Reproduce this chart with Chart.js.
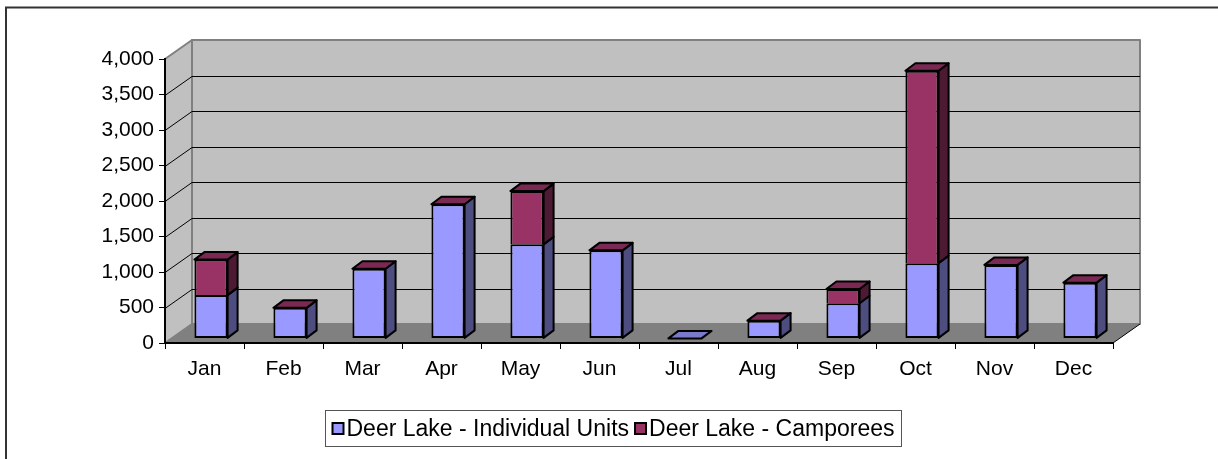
<!DOCTYPE html>
<html>
<head>
<meta charset="utf-8">
<script src="https://cdn.jsdelivr.net/npm/chart.js@4.4.1/dist/chart.umd.min.js"></script>
<style>
  body { margin: 0; background: #fff; }
  canvas { display: block; }
</style>
</head>
<body>
<canvas id="barChart" width="1218" height="459"></canvas>
<script>
const months = ["Jan", "Feb", "Mar", "Apr", "May", "Jun", "Jul", "Aug", "Sep", "Oct", "Nov", "Dec"];
const individualUnits = [610, 430, 980, 1890, 1325, 1240, 0, 250, 495, 1060, 1035, 785];
const camporees = [500, 0, 0, 0, 750, 0, null, 0, 200, 2710, 0, 0];
const yTicks = [0, 500, 1000, 1500, 2000, 2500, 3000, 3500, 4000];
const seriesNames = ["Deer Lake - Individual Units", "Deer Lake - Camporees"];

const FONT = '"Liberation Sans", Arial, sans-serif';
// depth of the 3d box and of the bars
const DX = 27, DY = -19;
const SHIFT_X = 6.5, SHIFT_Y = -4.6;
const BAR_DX = 10, BAR_DY = -7.5;

const faces = [
  { front: "#9999ff", side: "#4d4d80", top: "#7a7acc" },
  { front: "#993366", side: "#4d1a33", top: "#7a2952" },
];

function poly(ctx, pts, fill, stroke, lw) {
  ctx.beginPath();
  ctx.moveTo(pts[0][0], pts[0][1]);
  for (let i = 1; i < pts.length; i++) ctx.lineTo(pts[i][0], pts[i][1]);
  ctx.closePath();
  if (fill) { ctx.fillStyle = fill; ctx.fill(); }
  if (stroke) { ctx.strokeStyle = stroke; ctx.lineWidth = lw; ctx.lineJoin = "round"; ctx.stroke(); }
}

const box3d = {
  id: "box3d",
  beforeDraw(chart) {
    const ctx = chart.ctx;
    const a = chart.chartArea;
    const y = chart.scales.y;
    ctx.save();
    // outer frame
    ctx.strokeStyle = "#333";
    ctx.lineWidth = 2;
    ctx.beginPath();
    ctx.moveTo(6, 459);
    ctx.lineTo(6, 7.5);
    ctx.lineTo(1218, 7.5);
    ctx.stroke();

    const L = a.left, R = a.right, T = a.top, B = a.bottom;
    // left wall
    poly(ctx, [[L, B], [L, T], [L + DX, T + DY], [L + DX, B + DY]], "#c0c0c0", "#808080", 2);
    // back wall
    poly(ctx, [[L + DX, T + DY], [R + DX, T + DY], [R + DX, B + DY], [L + DX, B + DY]], "#c0c0c0", "#808080", 2);
    // floor
    poly(ctx, [[L, B], [L + DX, B + DY], [R + DX, B + DY], [R, B]], "#808080", null, 0);
    ctx.strokeStyle = "#000";
    ctx.lineWidth = 1;
    ctx.beginPath();
    ctx.moveTo(R, B);
    ctx.lineTo(R + DX, B + DY);
    ctx.stroke();

    // gridlines
    ctx.strokeStyle = "#000";
    ctx.lineWidth = 1;
    yTicks.slice(1, -1).forEach(v => {
      const py = Math.round(y.getPixelForValue(v)) + 0.5;
      ctx.beginPath();
      ctx.moveTo(L, py);
      ctx.lineTo(L + DX, py + DY);
      ctx.lineTo(R + DX, py + DY);
      ctx.stroke();
    });
    ctx.restore();
  },
  beforeDatasetsDraw(chart) {
    chart.ctx.save();
    chart.ctx.translate(SHIFT_X, SHIFT_Y);
  },
  afterDatasetsDraw(chart) {
    const ctx = chart.ctx;
    const sets = chart.data.datasets;
    for (let i = 0; i < months.length; i++) {
      let topEl = null, topD = -1;
      sets.forEach((ds, d) => {
        if (ds.data[i] === null) return;
        const el = chart.getDatasetMeta(d).data[i];
        const p = el.getProps(["x", "y", "base", "width"], true);
        const right = p.x + p.width / 2;
        if (p.base - p.y > 0.5) {
          poly(ctx, [[right, p.y], [right + BAR_DX, p.y + BAR_DY], [right + BAR_DX, p.base + BAR_DY], [right, p.base]],
            faces[d].side, "#000", 2);
        }
        topEl = p; topD = d;
      });
      if (topEl) {
        const l = topEl.x - topEl.width / 2, r = topEl.x + topEl.width / 2, t = topEl.y;
        poly(ctx, [[l, t], [l + BAR_DX, t + BAR_DY], [r + BAR_DX, t + BAR_DY], [r, t]], faces[topD].top, "#000", 2);
      }
    }
    ctx.restore();
  },
  afterDraw(chart) {
    // legend in a framed box
    const ctx = chart.ctx;
    ctx.save();
    ctx.font = "23px " + FONT;
    const sw = 11, gap = 3, itemGap = 6, padX = 7;
    const widths = seriesNames.map(s => ctx.measureText(s).width);
    let total = padX * 2;
    widths.forEach((w, k) => { total += sw + gap + w + (k ? itemGap : 0); });
    const cx = 612.5;
    const left = Math.round(cx - total / 2) + 0.5;
    const top = 410.5, h = 36;
    ctx.strokeStyle = "#555";
    ctx.lineWidth = 1;
    ctx.strokeRect(left, top, Math.round(total), h);
    let x = left + padX;
    const midY = top + h / 2;
    seriesNames.forEach((s, k) => {
      if (k) x += itemGap;
      ctx.fillStyle = faces[k].front;
      ctx.fillRect(x, midY - sw / 2, sw, sw);
      ctx.strokeStyle = "#000";
      ctx.lineWidth = 2;
      ctx.strokeRect(x, midY - sw / 2, sw, sw);
      x += sw + gap;
      ctx.fillStyle = "#000";
      ctx.textBaseline = "middle";
      ctx.textAlign = "left";
      ctx.fillText(s, x, midY + 1);
      x += widths[k];
    });
    ctx.restore();
  },
};

let barChart = document.getElementById("barChart").getContext("2d");

let deerLakeChart = new Chart(barChart, {
  type: "bar",
  data: {
    labels: months,
    datasets: [
      {
        label: seriesNames[0],
        data: individualUnits,
        backgroundColor: faces[0].front,
        borderColor: "#000",
        borderWidth: 2,
        borderSkipped: false,
        clip: false,
      },
      {
        label: seriesNames[1],
        data: camporees,
        backgroundColor: faces[1].front,
        borderColor: "#000",
        borderWidth: { top: 2, left: 2, right: 2, bottom: 0 },
        borderSkipped: false,
        clip: false,
      },
    ],
  },
  options: {
    responsive: false,
    animation: false,
    categoryPercentage: 0.42,
    barPercentage: 1,
    layout: {
      padding: { left: 75, right: 105, top: 59, bottom: 76 },
    },
    plugins: {
      legend: { display: false },
      tooltip: { enabled: false },
    },
    scales: {
      x: {
        stacked: true,
        grid: { offset: true, drawOnChartArea: false, tickLength: 6, color: "#000" },
        border: { color: "#000", width: 2 },
        ticks: { color: "#000", padding: 8, font: { family: FONT, size: 21 } },
        afterFit: (scale) => { scale.height = 40; },
      },
      y: {
        stacked: true,
        min: 0,
        max: 4000,
        afterBuildTicks: (scale) => { scale.ticks = yTicks.map(v => ({ value: v })); },
        grid: { drawOnChartArea: false, tickLength: 6, color: "#000" },
        border: { color: "#000", width: 2 },
        ticks: {
          color: "#000",
          padding: 5,
          font: { family: FONT, size: 21 },
          callback: (v) => v.toLocaleString("en-US"),
        },
        afterFit: (scale) => { scale.width = 90; },
      },
    },
  },
  plugins: [box3d],
});
</script>
</body>
</html>
